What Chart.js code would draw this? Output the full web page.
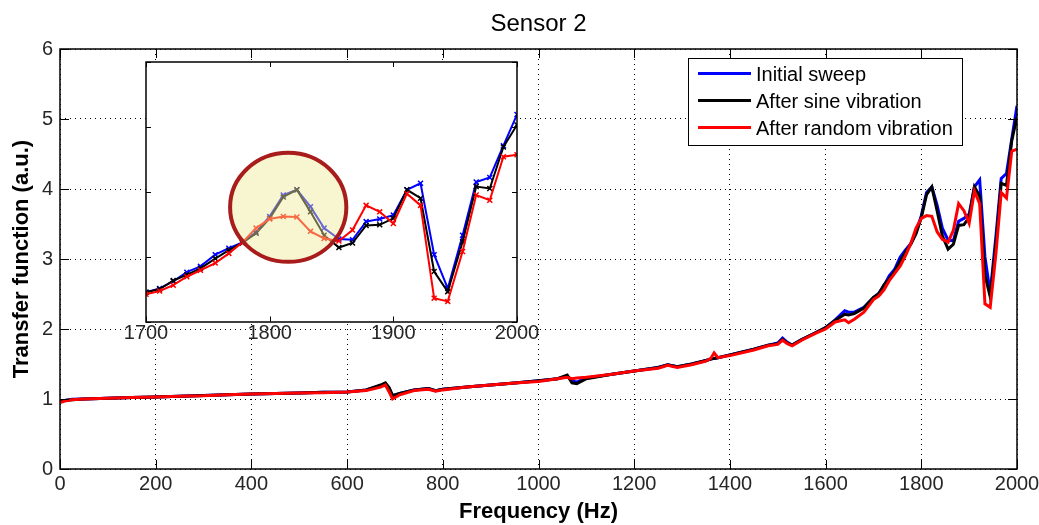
<!DOCTYPE html>
<html>
<head>
<meta charset="utf-8">
<title>Sensor 2</title>
<script src="https://cdn.jsdelivr.net/npm/chart.js@4.4.0/dist/chart.umd.min.js"></script>
<style>
  body { margin: 0; background: #fff; }
  #wrap { position: relative; width: 1039px; height: 525px; }
  #mainChart { position: absolute; left: 0; top: 0; }
  #insetChart { position: absolute; left: 120px; top: 55px; }
</style>
</head>
<body>
<div id="wrap">
  <canvas id="mainChart" width="1039" height="525"></canvas>
  <canvas id="insetChart" width="422" height="295"></canvas>
</div>
<script>
"use strict";

/* frequency points (Hz), shared by the three sweeps */
var freq = [0, 10, 25, 50, 100, 150, 200, 250, 300, 350,
  400, 450, 500, 550, 600, 640, 670, 680, 688, 695,
  710, 740, 770, 785, 800, 850, 900, 950, 1000, 1040,
  1060, 1070, 1080, 1100, 1150, 1200, 1250, 1270, 1290, 1320,
  1350, 1360, 1367, 1375, 1400, 1450, 1480, 1500, 1510, 1520,
  1530, 1550, 1580, 1600, 1620, 1640, 1648, 1660, 1680,
  1700, 1711, 1722, 1733, 1744, 1756, 1767, 1778, 1789, 1800,
  1811, 1822, 1833, 1844, 1856, 1867, 1878, 1889, 1900, 1911,
  1922, 1933, 1944, 1956, 1967, 1978, 1989, 2000];

var initialSweep = [0.96, 0.98, 0.995, 1.00, 1.01, 1.02, 1.03, 1.04, 1.05, 1.06,
  1.07, 1.08, 1.085, 1.095, 1.10, 1.13, 1.19, 1.22, 1.15, 1.04,
  1.08, 1.13, 1.15, 1.12, 1.14, 1.17, 1.20, 1.23, 1.26, 1.29,
  1.33, 1.26, 1.24, 1.30, 1.35, 1.40, 1.45, 1.49, 1.46, 1.50,
  1.55, 1.57, 1.58, 1.59, 1.63, 1.71, 1.77, 1.80, 1.87, 1.81,
  1.77, 1.85, 1.95, 2.02, 2.13, 2.26, 2.24, 2.24, 2.31,
  2.45, 2.51, 2.62, 2.76, 2.85, 3.03, 3.13, 3.22, 3.38, 3.62,
  3.95, 4.03, 3.77, 3.44, 3.27, 3.26, 3.54, 3.58, 3.64, 4.03,
  4.13, 3.03, 2.51, 3.33, 4.15, 4.22, 4.71, 5.19];

var afterSine = [0.96, 0.98, 0.99, 1.00, 1.01, 1.02, 1.03, 1.04, 1.05, 1.06,
  1.07, 1.08, 1.085, 1.095, 1.10, 1.13, 1.20, 1.23, 1.16, 1.05,
  1.08, 1.13, 1.15, 1.12, 1.14, 1.17, 1.20, 1.23, 1.26, 1.29,
  1.34, 1.23, 1.22, 1.29, 1.35, 1.40, 1.45, 1.49, 1.46, 1.50,
  1.55, 1.57, 1.58, 1.59, 1.63, 1.71, 1.77, 1.79, 1.85, 1.80,
  1.77, 1.85, 1.95, 2.02, 2.12, 2.21, 2.20, 2.22, 2.30,
  2.45, 2.50, 2.63, 2.72, 2.82, 2.97, 3.10, 3.21, 3.36, 3.59,
  3.92, 4.03, 3.69, 3.33, 3.14, 3.21, 3.48, 3.49, 3.59, 4.03,
  3.90, 2.77, 2.46, 3.23, 4.08, 4.05, 4.69, 5.03];

var afterRandom = [0.95, 0.97, 0.99, 1.00, 1.01, 1.02, 1.03, 1.04, 1.045, 1.06,
  1.07, 1.08, 1.085, 1.09, 1.10, 1.12, 1.17, 1.20, 1.10, 1.00,
  1.06, 1.12, 1.14, 1.11, 1.13, 1.17, 1.20, 1.23, 1.25, 1.29,
  1.31, 1.29, 1.30, 1.31, 1.35, 1.40, 1.44, 1.48, 1.45, 1.49,
  1.54, 1.58, 1.66, 1.59, 1.62, 1.70, 1.76, 1.78, 1.84, 1.79,
  1.76, 1.84, 1.94, 2.00, 2.10, 2.13, 2.09, 2.14, 2.24,
  2.42, 2.47, 2.56, 2.69, 2.79, 2.90, 3.05, 3.22, 3.44, 3.58,
  3.62, 3.61, 3.39, 3.28, 3.24, 3.41, 3.79, 3.69, 3.51, 3.97,
  3.79, 2.36, 2.31, 3.08, 3.95, 3.87, 4.54, 4.57];

var seriesNames = ["Initial sweep", "After sine vibration", "After random vibration"];
var seriesColors = ["#0000ff", "#000000", "#ff0000"];

/* main axes */
var xTicksMain = [0, 200, 400, 600, 800, 1000, 1200, 1400, 1600, 1800, 2000];
var yTicksMain = [0, 1, 2, 3, 4, 5, 6];
/* inset axes */
var xTicksInset = [1700, 1800, 1900, 2000];
var yTicksInset = [2, 3, 4, 5, 6];

/* highlighted peak in the inset: centre (Hz, a.u.) and radii */
var circleCenter = [1815, 3.76];
var circleRadius = [47, 0.84];

var FONT = '"Liberation Sans", Arial, sans-serif';

function toPoints(values) {
  return freq.map(function (f, i) { return { x: f, y: values[i] }; });
}

// plain labels, no thousands separator
function plainLabel(v) {
  return String(v);
}

function makeDatasets(inset) {
  var all = [initialSweep, afterSine, afterRandom];
  return all.map(function (vals, i) {
    return {
      label: seriesNames[i],
      data: toPoints(vals),
      borderColor: seriesColors[i],
      backgroundColor: seriesColors[i],
      borderWidth: inset ? 2 : 3,
      pointRadius: inset ? 3.5 : 0,
      pointStyle: "crossRot",
      pointBorderWidth: 1.5,
      pointBorderColor: seriesColors[i],
      tension: 0,
      fill: false,
      order: 3 - i   // red drawn last, on top
    };
  });
}

// box round the plot area with inward ticks, like matlab
function boxPlugin(tickLen, xTicks, yTicks) {
  return {
    id: "box",
    afterDraw: function (chart) {
      var ctx = chart.ctx, a = chart.chartArea;
      var xs = chart.scales.x, ys = chart.scales.y;
      ctx.save();
      ctx.strokeStyle = "#000";
      ctx.lineWidth = 1;
      ctx.beginPath();
      xTicks.forEach(function (t) {
        var px = Math.round(xs.getPixelForValue(t)) + 0.5;
        ctx.moveTo(px, a.bottom); ctx.lineTo(px, a.bottom - tickLen);
        ctx.moveTo(px, a.top); ctx.lineTo(px, a.top + tickLen);
      });
      yTicks.forEach(function (t) {
        var py = Math.round(ys.getPixelForValue(t)) + 0.5;
        ctx.moveTo(a.left, py); ctx.lineTo(a.left + tickLen, py);
        ctx.moveTo(a.right, py); ctx.lineTo(a.right - tickLen, py);
      });
      ctx.stroke();
      ctx.lineWidth = 1.5;
      ctx.strokeRect(Math.round(a.left), Math.round(a.top),
        Math.round(a.right - a.left), Math.round(a.bottom - a.top));
      ctx.restore();
    }
  };
}

var legendPlugin = {
  id: "boxLegend",
  afterDraw: function (chart) {
    var ctx = chart.ctx, a = chart.chartArea;
    var w = 274, h = 87;
    var x0 = Math.round(a.right - 55 - w), y0 = Math.round(a.top + 9);
    ctx.save();
    ctx.fillStyle = "#fff";
    ctx.fillRect(x0, y0, w, h);
    ctx.strokeStyle = "#000";
    ctx.lineWidth = 1;
    ctx.strokeRect(x0 + 0.5, y0 + 0.5, w, h);
    ctx.font = "20px " + FONT;
    ctx.textBaseline = "middle";
    seriesNames.forEach(function (name, i) {
      var yy = y0 + 15.5 + i * 27;
      ctx.strokeStyle = seriesColors[i];
      ctx.lineWidth = 3;
      ctx.beginPath();
      ctx.moveTo(x0 + 10, yy);
      ctx.lineTo(x0 + 63, yy);
      ctx.stroke();
      ctx.fillStyle = "#000";
      ctx.fillText(name, x0 + 68, yy + 1.5);
    });
    ctx.restore();
  }
};

var whiteAreaPlugin = {
  id: "whiteArea",
  beforeDraw: function (chart) {
    var a = chart.chartArea, ctx = chart.ctx;
    ctx.save();
    ctx.fillStyle = "#fff";
    ctx.fillRect(a.left, a.top, a.right - a.left, a.bottom - a.top);
    ctx.restore();
  }
};

var circlePlugin = {
  id: "highlight",
  afterDatasetsDraw: function (chart) {
    var xs = chart.scales.x, ys = chart.scales.y, ctx = chart.ctx;
    var cx = xs.getPixelForValue(circleCenter[0]);
    var cy = ys.getPixelForValue(circleCenter[1]);
    var rx = Math.abs(xs.getPixelForValue(circleCenter[0] + circleRadius[0]) - cx);
    var ry = Math.abs(ys.getPixelForValue(circleCenter[1] + circleRadius[1]) - cy);
    ctx.save();
    ctx.beginPath();
    ctx.ellipse(cx, cy, rx, ry, 0, 0, Math.PI * 2);
    ctx.fillStyle = "rgba(240, 235, 150, 0.45)";
    ctx.fill();
    ctx.lineWidth = 4;
    ctx.strokeStyle = "#a81c1c";
    ctx.stroke();
    ctx.restore();
  }
};

/* main chart */
var ctx0 = document.getElementById("mainChart");
var mainChart = new Chart(ctx0, {
  type: "line",
  data: { datasets: makeDatasets(false) },
  options: {
    responsive: false,
    animation: false,
    events: [],
    layout: { padding: { left: 0, right: 0, top: 0, bottom: 0 } },
    plugins: {
      legend: { display: false },
      tooltip: { enabled: false },
      title: {
        display: true,
        text: "Sensor 2",
        fullSize: false,
        color: "#000",
        font: { family: FONT, size: 24, weight: "normal" },
        padding: { top: 10, bottom: 10.2 }
      }
    },
    scales: {
      x: {
        type: "linear",
        min: 0,
        max: 2000,
        afterBuildTicks: function (s) { s.ticks = xTicksMain.map(function (v) { return { value: v }; }); },
        afterFit: function (s) { s.height = 56; s.paddingRight = 22; s.paddingLeft = 0; },
        ticks: { autoSkip: false, maxRotation: 0, padding: 3, color: "#262626", font: { family: FONT, size: 20 }, callback: plainLabel },
        grid: { color: "#000", lineWidth: 1, drawTicks: false },
        border: { display: false, dash: [1, 4] },
        title: {
          display: true,
          text: "Frequency (Hz)",
          color: "#000",
          font: { family: FONT, size: 22, weight: "bold" },
          padding: { top: 0, bottom: 0 }
        }
      },
      y: {
        type: "linear",
        min: 0,
        max: 6,
        afterBuildTicks: function (s) { s.ticks = yTicksMain.map(function (v) { return { value: v }; }); },
        afterFit: function (s) { s.width = 60; },
        ticks: { padding: 7, color: "#262626", font: { family: FONT, size: 20 }, callback: plainLabel },
        grid: { color: "#000", lineWidth: 1, drawTicks: false },
        border: { display: false, dash: [1, 4] },
        title: {
          display: true,
          text: "Transfer function (a.u.)",
          color: "#000",
          font: { family: FONT, size: 22, weight: "bold" },
          padding: { top: 9, bottom: 0 }
        }
      }
    }
  },
  plugins: [boxPlugin(9, xTicksMain, yTicksMain), legendPlugin]
});

/* zoomed inset, 1700-2000 Hz */
var ctx1 = document.getElementById("insetChart");
var insetChart = new Chart(ctx1, {
  type: "line",
  data: { datasets: makeDatasets(true) },
  options: {
    responsive: false,
    animation: false,
    events: [],
    layout: { padding: { left: 26, right: 25, top: 7, bottom: 0 } },
    plugins: {
      legend: { display: false },
      tooltip: { enabled: false },
      title: { display: false }
    },
    scales: {
      x: {
        type: "linear",
        min: 1700,
        max: 2000,
        afterBuildTicks: function (s) { s.ticks = xTicksInset.map(function (v) { return { value: v }; }); },
        afterFit: function (s) { s.height = 28.5; },
        ticks: { autoSkip: false, maxRotation: 0, padding: 0, color: "#262626", font: { family: FONT, size: 20 }, callback: plainLabel },
        grid: { display: false, drawTicks: false },
        border: { display: false }
      },
      y: {
        type: "linear",
        min: 2,
        max: 6,
        afterFit: function (s) { s.width = 0; },
        ticks: { display: false },
        grid: { display: false, drawTicks: false },
        border: { display: false }
      }
    }
  },
  plugins: [whiteAreaPlugin, circlePlugin, boxPlugin(5, xTicksInset, yTicksInset)]
});
</script>
</body>
</html>
